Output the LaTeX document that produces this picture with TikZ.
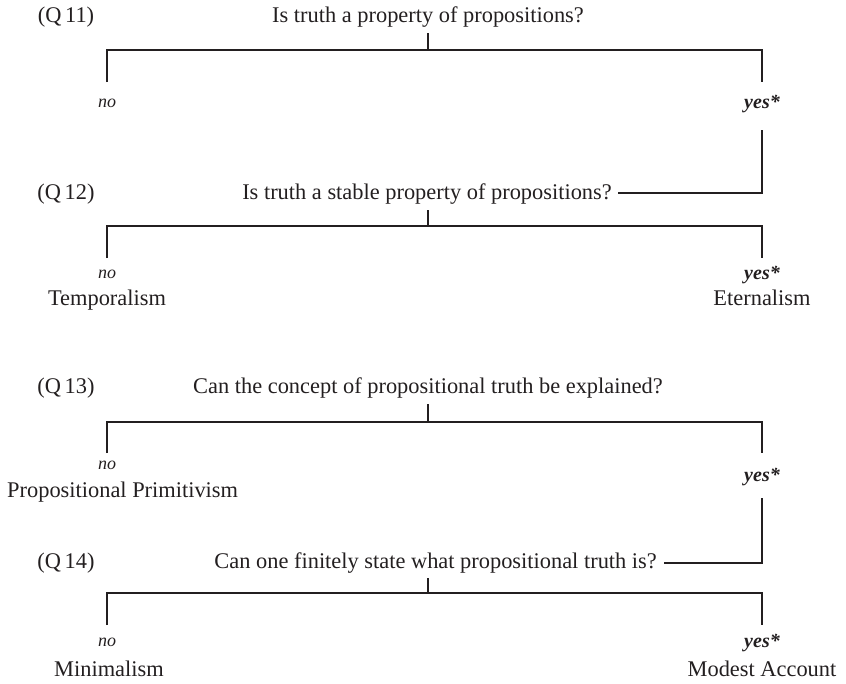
\documentclass[tikz,border=0pt]{standalone}
\usepackage{fontspec}
\setmainfont{Liberation Serif}
\definecolor{ink}{RGB}{35,31,32}
\begin{document}
\begin{tikzpicture}[x=1pt,y=-1pt,
  txt/.style={inner sep=0pt, anchor=base, text=ink, font=\fontsize{22.4}{26}\selectfont},
  nolbl/.style={inner sep=0pt, anchor=base, text=ink, font=\fontsize{18}{22}\selectfont\itshape},
  yeslbl/.style={inner sep=0pt, anchor=base, text=ink, font=\fontsize{20}{24}\selectfont\bfseries\itshape},
  ln/.style={draw=ink, line width=1.15pt}]
\useasboundingbox (0,0) rectangle (846,683);

% ---------- Block 1 ----------
\node[txt] (lq11) at (66,22) {(Q\,11)};
\node[txt] (q1) at (428,22) {Is truth a property of propositions?};
\node[nolbl] (n1) at (107,107) {no};
\node[yeslbl] (y1) at (762,108) {yes*};

\node[txt] (lq12) at (66,199) {(Q\,12)};
\node[txt, anchor=base east] (q2) at (612,199) {Is truth a stable property of propositions?};
\node[nolbl] (n2) at (107,278) {no};
\node[yeslbl] (y2) at (762,279) {yes*};
\node[txt] (a2l) at (107,305) {Temporalism};
\node[txt] (a2r) at (762,305) {Eternalism};

\coordinate (s1t) at (428,33);
\coordinate (s1b) at (428,50);
\coordinate (b1l) at (107,50);
\coordinate (b1r) at (762,50);
\coordinate (l1e) at (107,82);
\coordinate (r1e) at (762,82);
\coordinate (c1t) at (762,130);
\coordinate (c1e) at (618,193);

\draw[ln] (s1t) -- (s1b);
\draw[ln] (l1e) -- (b1l) -- (b1r) -- (r1e);
\draw[ln] (c1t) |- (c1e);

\coordinate (s2t) at (428,210);
\coordinate (s2b) at (428,226);
\coordinate (b2l) at (107,226);
\coordinate (b2r) at (762,226);
\coordinate (l2e) at (107,258);
\coordinate (r2e) at (762,258);
\draw[ln] (s2t) -- (s2b);
\draw[ln] (l2e) -- (b2l) -- (b2r) -- (r2e);

% ---------- Block 2 ----------
\node[txt] (lq13) at (66,393) {(Q\,13)};
\node[txt] (q3) at (428,393) {Can the concept of propositional truth be explained?};
\node[nolbl] (n3) at (107,469) {no};
\node[yeslbl] (y3) at (762,481) {yes*};
\node[txt, anchor=base west] (a3l) at (7,497) {Propositional Primitivism};

\node[txt] (lq14) at (66,568) {(Q\,14)};
\node[txt, anchor=base east] (q4) at (657,568) {Can one finitely state what propositional truth is?};
\node[nolbl] (n4) at (107,646) {no};
\node[yeslbl] (y4) at (762,647) {yes*};
\node[txt] (a4l) at (109,676) {Minimalism};
\node[txt] (a4r) at (762,676) {Modest Account};

\coordinate (s3t) at (428,404);
\coordinate (s3b) at (428,422);
\coordinate (b3l) at (107,422);
\coordinate (b3r) at (762,422);
\coordinate (l3e) at (107,453);
\coordinate (r3e) at (762,453);
\coordinate (c3t) at (762,498);
\coordinate (c3e) at (664,563);
\draw[ln] (s3t) -- (s3b);
\draw[ln] (l3e) -- (b3l) -- (b3r) -- (r3e);
\draw[ln] (c3t) |- (c3e);

\coordinate (s4t) at (428,578);
\coordinate (s4b) at (428,593);
\coordinate (b4l) at (107,593);
\coordinate (b4r) at (762,593);
\coordinate (l4e) at (107,625);
\coordinate (r4e) at (762,625);
\draw[ln] (s4t) -- (s4b);
\draw[ln] (l4e) -- (b4l) -- (b4r) -- (r4e);
\end{tikzpicture}
\end{document}
